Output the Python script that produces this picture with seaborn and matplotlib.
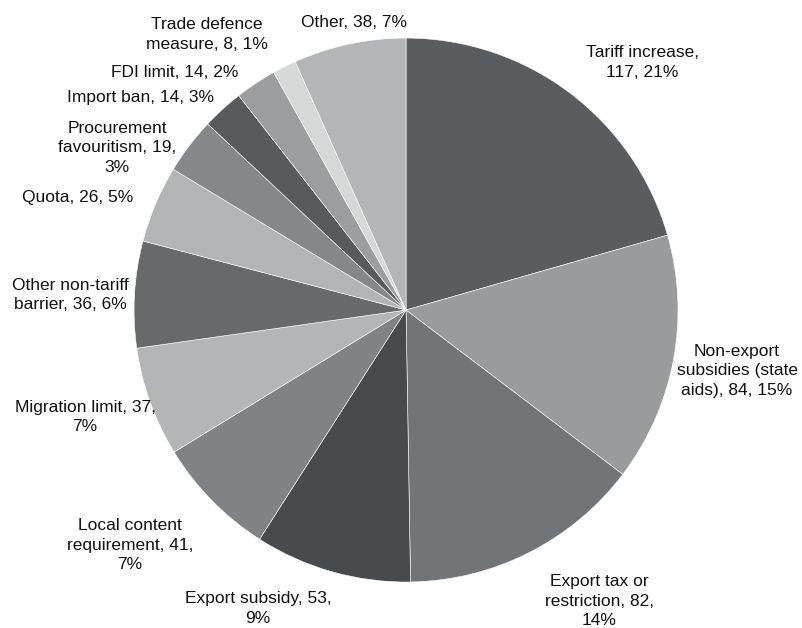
import matplotlib
matplotlib.use("Agg")
import matplotlib.pyplot as plt
import seaborn as sns

# Measures by type, clockwise from 12 o'clock
categories = [
    "Tariff increase", "Non-export subsidies (state aids)", "Export tax or restriction",
    "Export subsidy", "Local content requirement", "Migration limit",
    "Other non-tariff barrier", "Quota", "Procurement favouritism",
    "Import ban", "FDI limit", "Trade defence measure", "Other",
]
counts = [117, 84, 82, 53, 41, 37, 36, 26, 19, 14, 14, 8, 38]
shares = [21, 15, 14, 9, 7, 7, 6, 5, 3, 3, 2, 1, 7]

# Label text as wrapped on the chart
label_lines = [
    "Tariff increase,\n{c}, {p}%",
    "Non-export\nsubsidies (state\naids), {c}, {p}%",
    "Export tax or\nrestriction, {c},\n{p}%",
    "Export subsidy, {c},\n{p}%",
    "Local content\nrequirement, {c},\n{p}%",
    "Migration limit, {c},\n{p}%",
    "Other non-tariff\nbarrier, {c}, {p}%",
    "Quota, {c}, {p}%",
    "Procurement\nfavouritism, {c},\n{p}%",
    "Import ban, {c}, {p}%",
    "FDI limit, {c}, {p}%",
    "Trade defence\nmeasure, {c}, {p}%",
    "Other, {c}, {p}%",
]

colors = [
    "#5a5d5f", "#9a9b9d", "#727577", "#484b4d", "#808385", "#b4b5b6",
    "#67696b", "#b3b4b5", "#85888a", "#585b5d", "#9c9d9f", "#d6d7d7", "#b3b5b6",
]

# Label anchor points (pie radius = 1)
label_pos = [
    (0.868, 0.910), (1.217, -0.224), (0.710, -1.070), (-0.544, -1.096),
    (-1.015, -0.864), (-1.180, -0.393), (-1.235, 0.055), (-1.206, 0.415),
    (-1.063, 0.596), (-0.978, 0.783), (-0.849, 0.875), (-0.732, 1.013),
    (-0.191, 1.059),
]

sns.set_theme(style="white")
plt.rcParams["font.family"] = ["Liberation Sans", "DejaVu Sans"]

fig = plt.figure(figsize=(8.03, 6.28), dpi=100)
ax = fig.add_axes([0.1669, 0.0732, 0.6775, 0.8662])

ax.pie(
    counts, colors=colors, startangle=90, counterclock=False, radius=1,
    wedgeprops=dict(edgecolor="white", linewidth=0.4),
)
ax.set_xlim(-1, 1)
ax.set_ylim(-1, 1)
ax.set_aspect("equal")
ax.axis("off")

for tmpl, c, p, (x, y) in zip(label_lines, counts, shares, label_pos):
    ax.text(x, y, tmpl.format(c=c, p=p), ha="center", va="center",
            fontsize=12.5, color="#111111", linespacing=1.4, clip_on=False)

fig.savefig("out.png", dpi=100, facecolor="white")
